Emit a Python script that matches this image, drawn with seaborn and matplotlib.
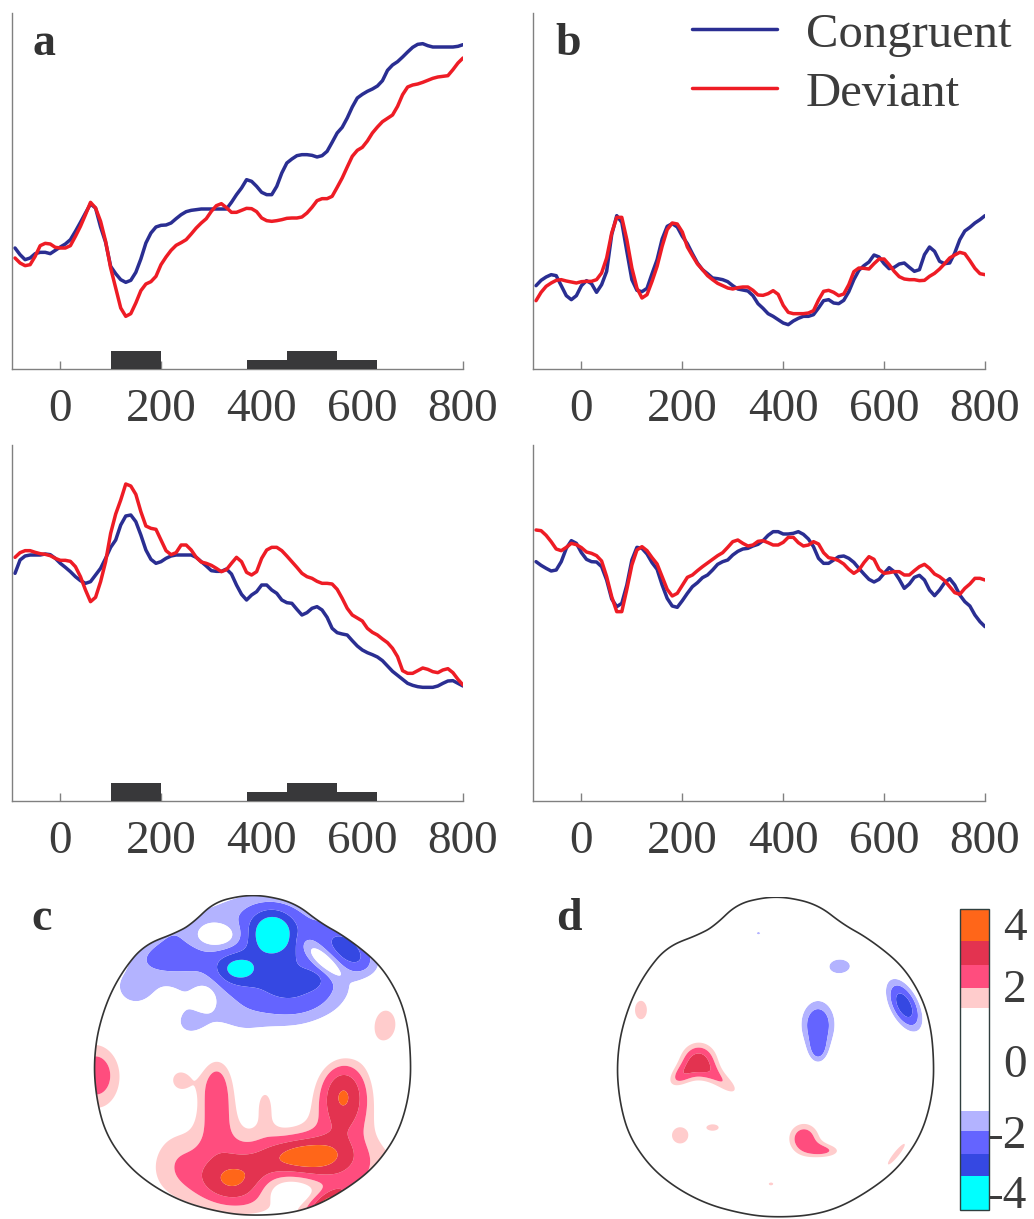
import numpy as np
import pandas as pd
import matplotlib
matplotlib.use("Agg")
import matplotlib.pyplot as plt
import seaborn as sns
from matplotlib.path import Path
from matplotlib.patches import PathPatch
from matplotlib.lines import Line2D

# ---------------- data: ERP waveforms (time in ms, amplitude in µV) ----------------
times = np.arange(-90, 801, 10)
conditions = ["Congruent", "Deviant"]

a_congruent = [0.05, -0.15, -0.30, -0.25, -0.12, -0.08, -0.08, -0.12, -0.02, 0.08,
               0.17, 0.30, 0.55, 0.82, 1.10, 1.37, 1.25, 0.68, 0.22, -0.50,
               -0.72, -0.90, -0.98, -0.92, -0.68, -0.28, 0.20, 0.50, 0.68, 0.73,
               0.74, 0.80, 0.93, 1.05, 1.14, 1.18, 1.20, 1.22, 1.22, 1.22,
               1.22, 1.22, 1.22, 1.42, 1.65, 1.85, 2.10, 2.05, 1.90, 1.72,
               1.65, 1.65, 1.90, 2.30, 2.60, 2.72, 2.82, 2.85, 2.85, 2.83,
               2.78, 2.82, 2.95, 3.22, 3.50, 3.67, 3.95, 4.28, 4.55, 4.66,
               4.75, 4.82, 4.91, 5.07, 5.38, 5.54, 5.64, 5.78, 5.93, 6.07,
               6.16, 6.18, 6.12, 6.08, 6.08, 6.08, 6.08, 6.08, 6.10, 6.15]
a_deviant = [-0.25, -0.40, -0.48, -0.45, -0.20, 0.12, 0.19, 0.17, 0.07, 0.05,
             0.05, 0.12, 0.40, 0.70, 1.05, 1.42, 1.25, 0.85, 0.25, -0.55,
             -1.15, -1.75, -2.00, -1.92, -1.60, -1.23, -1.03, -0.96, -0.80, -0.45,
             -0.22, -0.02, 0.13, 0.21, 0.30, 0.47, 0.65, 0.80, 0.93, 1.15,
             1.32, 1.38, 1.26, 1.12, 1.12, 1.18, 1.24, 1.23, 1.14, 0.95,
             0.87, 0.85, 0.87, 0.90, 0.94, 0.95, 0.95, 0.98, 1.10, 1.27,
             1.47, 1.53, 1.53, 1.60, 1.87, 2.15, 2.48, 2.80, 2.98, 3.07,
             3.26, 3.50, 3.68, 3.84, 3.94, 4.04, 4.30, 4.65, 4.88, 4.94,
             4.97, 5.02, 5.08, 5.14, 5.18, 5.20, 5.22, 5.40, 5.60, 5.75]
b_congruent = [-1.08, -0.92, -0.82, -0.75, -0.78, -1.08, -1.38, -1.50, -1.38, -1.08,
               -0.93, -1.02, -1.28, -1.05, -0.65, 0.45, 1.02, 0.82, -0.05, -0.90,
               -1.22, -1.26, -1.16, -0.72, -0.30, 0.32, 0.70, 0.78, 0.68, 0.40,
               0.18, -0.12, -0.40, -0.60, -0.72, -0.85, -0.87, -0.90, -0.96, -1.08,
               -1.18, -1.21, -1.24, -1.38, -1.62, -1.76, -1.92, -2.00, -2.10, -2.20,
               -2.25, -2.14, -2.06, -2.00, -2.00, -1.95, -1.75, -1.53, -1.50, -1.60,
               -1.62, -1.52, -1.26, -0.90, -0.62, -0.48, -0.37, -0.16, -0.22, -0.42,
               -0.57, -0.53, -0.43, -0.40, -0.53, -0.65, -0.60, -0.15, 0.08, -0.05,
               -0.35, -0.42, -0.40, -0.10, 0.30, 0.56, 0.67, 0.80, 0.90, 1.02]
b_deviant = [-1.53, -1.28, -1.10, -1.00, -0.92, -0.90, -0.94, -0.97, -1.00, -0.96,
             -0.95, -0.95, -0.90, -0.70, -0.25, 0.50, 0.97, 0.97, 0.30, -0.55,
             -1.15, -1.45, -1.35, -0.95, -0.50, 0.10, 0.60, 0.80, 0.77, 0.53,
             0.08, -0.18, -0.43, -0.60, -0.78, -0.90, -1.01, -1.08, -1.15, -1.18,
             -1.14, -1.12, -1.12, -1.22, -1.36, -1.37, -1.32, -1.23, -1.34, -1.67,
             -1.88, -1.92, -1.92, -1.92, -1.90, -1.83, -1.51, -1.25, -1.22, -1.28,
             -1.38, -1.33, -1.05, -0.66, -0.55, -0.56, -0.58, -0.42, -0.28, -0.28,
             -0.45, -0.65, -0.81, -0.88, -0.90, -0.90, -0.93, -0.92, -0.80, -0.71,
             -0.58, -0.42, -0.25, -0.16, -0.08, -0.12, -0.33, -0.56, -0.72, -0.75]
c_congruent = [3.25, 3.65, 3.77, 3.80, 3.80, 3.80, 3.83, 3.81, 3.70, 3.55,
               3.43, 3.30, 3.15, 3.03, 2.95, 3.00, 3.20, 3.40, 3.70, 4.03,
               4.25, 4.70, 4.97, 5.00, 4.80, 4.40, 3.95, 3.67, 3.55, 3.60,
               3.70, 3.77, 3.80, 3.80, 3.80, 3.80, 3.73, 3.60, 3.47, 3.33,
               3.31, 3.31, 3.38, 3.23, 2.90, 2.62, 2.45, 2.60, 2.70, 2.90,
               2.90, 2.75, 2.65, 2.45, 2.37, 2.35, 2.17, 2.00, 2.07, 2.20,
               2.25, 2.15, 1.93, 1.60, 1.47, 1.43, 1.40, 1.23, 1.07, 0.95,
               0.87, 0.81, 0.74, 0.63, 0.47, 0.31, 0.19, 0.07, -0.05, -0.11,
               -0.15, -0.17, -0.17, -0.17, -0.13, -0.05, 0.02, 0.03, -0.05, -0.13]
c_deviant = [3.73, 3.87, 3.93, 3.93, 3.88, 3.84, 3.82, 3.78, 3.70, 3.64,
             3.64, 3.61, 3.45, 3.15, 2.75, 2.40, 2.53, 3.00, 3.60, 4.45,
             5.03, 5.45, 5.93, 5.87, 5.62, 5.10, 4.67, 4.60, 4.57, 4.25,
             3.93, 3.81, 3.87, 4.10, 4.10, 3.95, 3.73, 3.59, 3.55, 3.49,
             3.40, 3.30, 3.36, 3.55, 3.73, 3.60, 3.28, 3.20, 3.30, 3.70,
             3.95, 4.03, 4.03, 3.93, 3.77, 3.60, 3.43, 3.25, 3.15, 3.10,
             3.01, 2.95, 2.95, 2.93, 2.77, 2.50, 2.20, 2.00, 1.91, 1.82,
             1.60, 1.48, 1.40, 1.28, 1.17, 1.00, 0.75, 0.33, 0.25, 0.25,
             0.33, 0.41, 0.37, 0.30, 0.27, 0.35, 0.39, 0.27, 0.07, -0.10]
d_congruent = [3.60, 3.49, 3.40, 3.32, 3.35, 3.60, 4.00, 4.23, 4.15, 3.87,
               3.67, 3.60, 3.59, 3.45, 3.05, 2.48, 2.25, 2.35, 2.90, 3.65,
               4.03, 4.00, 3.83, 3.57, 3.37, 2.90, 2.50, 2.27, 2.23, 2.43,
               2.65, 2.85, 2.97, 3.12, 3.20, 3.35, 3.52, 3.60, 3.65, 3.80,
               3.91, 3.98, 4.00, 4.07, 4.12, 4.23, 4.39, 4.50, 4.50, 4.43,
               4.43, 4.45, 4.50, 4.42, 4.28, 4.05, 3.70, 3.55, 3.55, 3.65,
               3.75, 3.77, 3.70, 3.58, 3.40, 3.23, 3.07, 2.99, 3.07, 3.25,
               3.42, 3.30, 3.07, 2.80, 2.93, 3.13, 3.19, 3.05, 2.75, 2.58,
               2.75, 2.97, 3.09, 2.90, 2.60, 2.40, 2.27, 2.00, 1.80, 1.65]
d_deviant = [4.55, 4.53, 4.39, 4.20, 3.98, 3.93, 4.03, 4.15, 4.11, 4.02,
             3.89, 3.85, 3.78, 3.62, 3.15, 2.55, 2.10, 2.10, 2.77, 3.50,
             3.95, 4.05, 3.93, 3.72, 3.53, 3.15, 2.77, 2.57, 2.65, 2.89,
             3.13, 3.20, 3.33, 3.45, 3.56, 3.67, 3.78, 3.87, 4.03, 4.20,
             4.25, 4.15, 4.07, 4.10, 4.21, 4.23, 4.17, 4.10, 4.10, 4.18,
             4.33, 4.33, 4.17, 4.07, 4.10, 4.20, 4.13, 3.87, 3.72, 3.69,
             3.63, 3.53, 3.37, 3.25, 3.35, 3.57, 3.75, 3.67, 3.37, 3.25,
             3.27, 3.30, 3.30, 3.20, 3.20, 3.33, 3.45, 3.52, 3.40, 3.23,
             3.15, 3.03, 2.85, 2.67, 2.62, 2.80, 2.93, 3.10, 3.10, 3.05]

# significance bars (ms) and their stacking level
sig_start = [100, 370, 450, 550]
sig_end = [200, 450, 550, 630]
sig_level = [2, 1, 2, 1]

x_ticks = [0, 200, 400, 600, 800]

# ---------------- data: scalp topographies (t-values), as sources ----
# columns: x, y, amplitude, sigma_x, sigma_y, rotation (deg); head radius = 1
c_src_x = [0.00, -0.55, -0.80, -0.30, -0.30, -0.23, 0.30, 0.13, -0.10, 0.37, 0.45, 0.64,
           0.22, -0.13, 0.355, 0.23, -0.23, 0.08, -0.50, 0.58, -1.00, -0.47, 0.84, 0.47,
           -0.55, 0.60, 0.05]
c_src_y = [0.63, 0.64, 0.43, 0.19, 0.41, 0.79, 0.40, 0.82, 0.58, 0.51, 0.64, 0.67,
           -0.72, -0.78, -0.606, -0.82, -0.18, -0.25, -0.60, -0.21, -0.09, -0.12, 0.245, -0.92,
           0.82, 0.78, 1.00]
c_src_amp = [-2.2, -0.8, -0.9, -1.1, 0.5, 1.1, -1.05, -2.0, -1.15, -0.5, 1.25, -0.8,
             2.4, 1.25, 1.5, -1.4, 2.25, 1.15, 0.6, 3.0, 2.3, 1.5, 2.1, 2.0,
             -0.7, -1.0, -0.6]
c_src_sx = [0.55, 0.12, 0.14, 0.20, 0.06, 0.11, 0.25, 0.11, 0.09, 0.06, 0.11, 0.12,
            0.65, 0.16, 0.19, 0.15, 0.10, 0.06, 0.12, 0.14, 0.15, 0.07, 0.10, 0.10,
            0.20, 0.20, 0.25]
c_src_sy = [0.30, 0.06, 0.15, 0.11, 0.07, 0.06, 0.17, 0.10, 0.065, 0.04, 0.04, 0.06,
            0.24, 0.11, 0.085, 0.08, 0.24, 0.12, 0.20, 0.19, 0.20, 0.08, 0.14, 0.05,
            0.12, 0.12, 0.10]
c_src_rot = [0, 0, 0, 0, 0, 0, 0, 0, 0, 0, -41, -40,
             0, 0, 0, 0, 0, 0, 0, 0, 0, 0, 0, 30,
             0, -35, 0]

d_src_x = [-0.11, 0.41, 0.27, 0.27, 0.82, -0.86, -0.49, -0.32, -0.62, -0.61, -0.40, 0.18, 0.33, -0.03, 0.77]
d_src_y = [0.82, 0.61, 0.24, 0.06, 0.36, 0.33, 0.01, -0.14, -0.10, -0.47, -0.42, -0.49, -0.57, -0.78, -0.59]
d_src_amp = [-1.5, -1.75, -2.4, -1.2, -2.9, 1.75, 2.55, 1.6, 1.55, 1.75, 1.7, 2.35, 1.6, 1.5, 1.7]
d_src_sx = [0.025, 0.09, 0.10, 0.05, 0.15, 0.055, 0.10, 0.12, 0.08, 0.075, 0.055, 0.09, 0.09, 0.035, 0.13]
d_src_sy = [0.02, 0.06, 0.14, 0.07, 0.075, 0.085, 0.10, 0.05, 0.05, 0.075, 0.03, 0.09, 0.04, 0.022, 0.025]
d_src_rot = [0, 0, 0, 0, -63, 0, 0, -38, 40, 0, 0, 0, 0, 0, 51]

# head outline (polar: angle in degrees, radius)
head_angle = [90, 75.5, 63.8, 49, 36, 22, 2, -12, -27, -41.5, -55, -70, -87,
              -105, -123, -139, -153, -168, 178, 163, 148, 134, 121, 113, 104]
head_radius = [1.053, 1.034, 0.972, 0.983, 1.009, 1.015, 1.004, 1.017, 1.032, 1.028, 1.011, 1.009, 0.989,
               0.989, 1.013, 1.038, 1.043, 1.019, 1.006, 0.998, 1.0, 1.004, 0.943, 0.951, 1.032]

# colour scale of the maps
topo_levels = [-4.0, -3.1, -2.5, -1.9, -1.38, 1.38, 1.9, 2.5, 3.15, 4.0]
topo_colors = ["#00FFFF", "#3548E2", "#6464FF", "#B3B3FF", "#FFFFFF",
               "#FFCCCC", "#FF4D7E", "#E33350", "#FF6619"]
cbar_ticks = [-3, -2, -1, 0, 1, 2, 3]
cbar_labels = ["4", "2", "0", "-2", "-4"]

BLUE = "#2A2E92"
RED = "#EE1C25"
TXT = "#3c3c3c"
SPINE = "#808080"

# ---------------- style ----------------
sns.set_theme(style="white")
plt.rcParams["font.family"] = ["Liberation Serif", "DejaVu Serif"]

W, H = 1034, 1219
fig = plt.figure(figsize=(W / 100, H / 100), dpi=100)
fig.patch.set_facecolor("white")


def px_rect(left, top, right, bottom):
    return [left / W, 1 - bottom / H, (right - left) / W, (bottom - top) / H]


YLIM = (-3.58, 7.10)
XLIM = (-96, 800)


def line_panel(rect, cong, dev, bars):
    ax = fig.add_axes(rect)
    df = pd.DataFrame({
        "t": np.concatenate([times, times]),
        "v": np.concatenate([cong, dev]),
        "cond": [conditions[0]] * len(times) + [conditions[1]] * len(times),
    })
    sns.lineplot(data=df, x="t", y="v", hue="cond", hue_order=conditions,
                 palette={conditions[0]: BLUE, conditions[1]: RED},
                 linewidth=2.5, legend=False, ax=ax, estimator=None)
    if bars:
        widths = [e - s for s, e in zip(sig_start, sig_end)]
        heights = [lv * 0.27 for lv in sig_level]
        ax.bar(sig_start, heights, width=widths, bottom=YLIM[0], align="edge",
               color="#38383a", edgecolor="none", zorder=3)
    ax.set_xlim(*XLIM)
    ax.set_ylim(*YLIM)
    ax.set_xlabel("")
    ax.set_ylabel("")
    ax.set_yticks([])
    ax.set_xticks(x_ticks)
    ax.set_xticklabels([str(v) for v in x_ticks])
    for s in ["top", "right"]:
        ax.spines[s].set_visible(False)
    for s in ["left", "bottom"]:
        ax.spines[s].set_color(SPINE)
        ax.spines[s].set_linewidth(1.0)
    ax.tick_params(axis="x", direction="in", length=6, width=1, color=SPINE,
                   labelsize=34, labelcolor=TXT, pad=14, bottom=True)
    ax.set_facecolor("none")
    return ax


ax_a = line_panel(px_rect(12, 13, 463, 369), a_congruent, a_deviant, True)
ax_b = line_panel(px_rect(533, 13, 985, 369), b_congruent, b_deviant, False)
ax_c = line_panel(px_rect(12, 445, 463, 801), c_congruent, c_deviant, True)
ax_d = line_panel(px_rect(533, 445, 985, 801), d_congruent, d_deviant, False)

# legend (in panel b)
for yy, col, lab in [(29, BLUE, conditions[0]), (88, RED, conditions[1])]:
    fig.add_artist(Line2D([692 / W, 777 / W], [1 - yy / H, 1 - yy / H],
                          transform=fig.transFigure, color=col, lw=2.5))
    fig.text(806 / W, 1 - (yy + 18) / H, lab, fontsize=35, color=TXT,
             ha="left", va="baseline")

# panel letters
for lx, ly, lt in [(33, 55, "a"), (555, 55, "b"), (31, 930, "c"), (556, 930, "d")]:
    fig.text(lx / W, 1 - ly / H, lt, fontsize=33, fontweight="bold", color="#333333",
             ha="left", va="baseline")

# ---------------- topographic maps ----------------
th = np.linspace(0, 360, 721)[:-1]
r_f = np.interp(th, head_angle, head_radius, period=360)
k = 10
r_pad = np.concatenate([r_f[-k:], r_f, r_f[:k]])
r_s = np.convolve(r_pad, np.ones(2 * k + 1) / (2 * k + 1), mode="same")[k:-k]
hx = r_s * np.cos(np.deg2rad(th))
hy = r_s * np.sin(np.deg2rad(th))
head_verts = np.column_stack([np.append(hx, hx[0]), np.append(hy, hy[0])])
head_path = Path(head_verts, closed=True)

UNIT = 156.7  # px per head radius
HALF = 165


def topo_panel(cx, cy, sx_, sy_, amp, sgx, sgy, rot):
    ax = fig.add_axes(px_rect(cx - HALF, cy - HALF, cx + HALF, cy + HALF))
    g = np.linspace(-1.1, 1.1, 441)
    X, Y = np.meshgrid(g, g)
    Z = np.zeros_like(X)
    for x0, y0, a, s1, s2, r in zip(sx_, sy_, amp, sgx, sgy, rot):
        t = np.deg2rad(r)
        dx, dy = X - x0, Y - y0
        u = dx * np.cos(t) + dy * np.sin(t)
        v = -dx * np.sin(t) + dy * np.cos(t)
        Z += a * np.exp(-0.5 * ((u / s1) ** 2 + (v / s2) ** 2))
    Z = np.clip(Z, -3.99, 3.99)
    cs = ax.contourf(X, Y, Z, levels=topo_levels, colors=topo_colors, antialiased=True)
    patch = PathPatch(head_path, transform=ax.transData, facecolor="none",
                      edgecolor="#333333", lw=1.2, zorder=5)
    ax.add_patch(patch)
    cs.set_clip_path(patch)
    lim = HALF / UNIT
    ax.set_xlim(-lim, lim)
    ax.set_ylim(-lim, lim)
    ax.set_aspect("equal")
    ax.axis("off")
    return cs


cs_c = topo_panel(252.7, 1060.0, c_src_x, c_src_y, c_src_amp, c_src_sx, c_src_sy, c_src_rot)
cs_d = topo_panel(775.7, 1061.7, d_src_x, d_src_y, d_src_amp, d_src_sx, d_src_sy, d_src_rot)

cax = fig.add_axes(px_rect(960, 909, 989, 1210))
cb = fig.colorbar(cs_c, cax=cax, spacing="proportional")
cb.outline.set_edgecolor("#2f3f3f")
cb.outline.set_linewidth(1.0)
cb.set_ticks(cbar_ticks)
cb.set_ticklabels([""] * len(cbar_ticks))
cax.tick_params(axis="y", direction="in", length=4, width=1, color="#333333",
                right=True, left=False)
for lab, yy in zip(cbar_labels, [940, 1002, 1077, 1148, 1208]):
    fig.text(1027 / W, 1 - yy / H, lab, fontsize=34, color=TXT, ha="right", va="baseline")

fig.savefig("out.png", dpi=100, facecolor="white")
